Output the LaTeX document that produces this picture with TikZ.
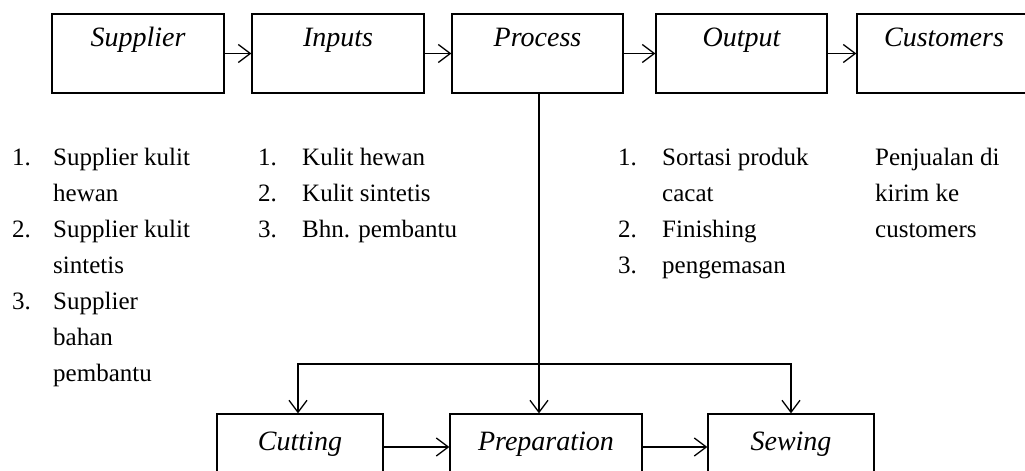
\documentclass[tikz,border=0pt]{standalone}
\usepackage{fontspec}
\setmainfont{Liberation Serif}
\usetikzlibrary{arrows.meta}
\begin{document}
\begin{tikzpicture}[x=1pt, y=-1pt,
  every node/.style={inner sep=0pt},
  stage/.style={draw, rectangle, line width=1.3pt,
    font=\fontsize{28}{32}\selectfont\itshape},
  toprow/.style={stage, text height=32pt, text depth=47pt, anchor=base},
  botrow/.style={stage, text height=36pt, text depth=30pt, anchor=base},
  itemlist/.style={anchor=base west, align=left,
    font=\fontsize{25}{36}\selectfont},
  arr/.style={line width=1.3pt, -{Straight Barb[length=12pt, width=18pt]}},
  link/.style={line width=1.3pt}]
\useasboundingbox (0,0) rectangle (1025,471);
\clip (0,0) rectangle (1025,471);

% main chain
\node[toprow, minimum width=172pt] (sup)  at (138,46)   {Supplier};
\node[toprow, minimum width=172pt] (inp)  at (338,46)   {Inputs};
\node[toprow, minimum width=171pt] (proc) at (537.5,46) {Process};
\node[toprow, minimum width=171pt] (out)  at (741.5,46) {Output};
\node[toprow, minimum width=174pt] (cust) at (944,46)   {Customers};

\draw[arr] (sup) -- (inp);
\draw[arr] (inp) -- (proc);
\draw[arr] (proc) -- (out);
\draw[arr] (out) -- (cust);

% process stages
\node[botrow, minimum width=166pt] (cut)  at (300,450) {Cutting};
\node[botrow, minimum width=192pt] (prep) at (546,450) {Preparation};
\node[botrow, minimum width=166pt] (sew)  at (791,450) {Sewing};

\draw[arr] (cut) -- (prep);
\draw[arr] (prep) -- (sew);

\draw[arr] ([xshift=1.5pt]proc.south) -- ([xshift=1.5pt]proc.south |- prep.north);
\coordinate (fork) at ([xshift=1.5pt]proc.south |- 0,364);
\draw[arr] (fork) -| ([xshift=-2pt]cut.north);
\draw[arr] (fork) -| (sew.north);

% descriptions
\node[itemlist] (suplist) at (12,165) {\begin{tabular}[t]{@{}p{41pt}@{}l@{}}
1.&Supplier kulit\\ &hewan\\
2.&Supplier kulit\\ &sintetis\\
3.&Supplier\\ &bahan\\ &pembantu\end{tabular}};

\node[itemlist] (inplist) at (258,165) {\begin{tabular}[t]{@{}p{44pt}@{}l@{}}
1.&Kulit hewan\\
2.&Kulit sintetis\\
3.&Bhn. pembantu\end{tabular}};

\node[itemlist] (outlist) at (618,165) {\begin{tabular}[t]{@{}p{44pt}@{}l@{}}
1.&Sortasi produk\\ &cacat\\
2.&Finishing\\
3.&pengemasan\end{tabular}};

\node[itemlist] (custnote) at (875,165) {\begin{tabular}[t]{@{}l@{}}
Penjualan di\\kirim ke\\customers\end{tabular}};
\end{tikzpicture}
\end{document}
